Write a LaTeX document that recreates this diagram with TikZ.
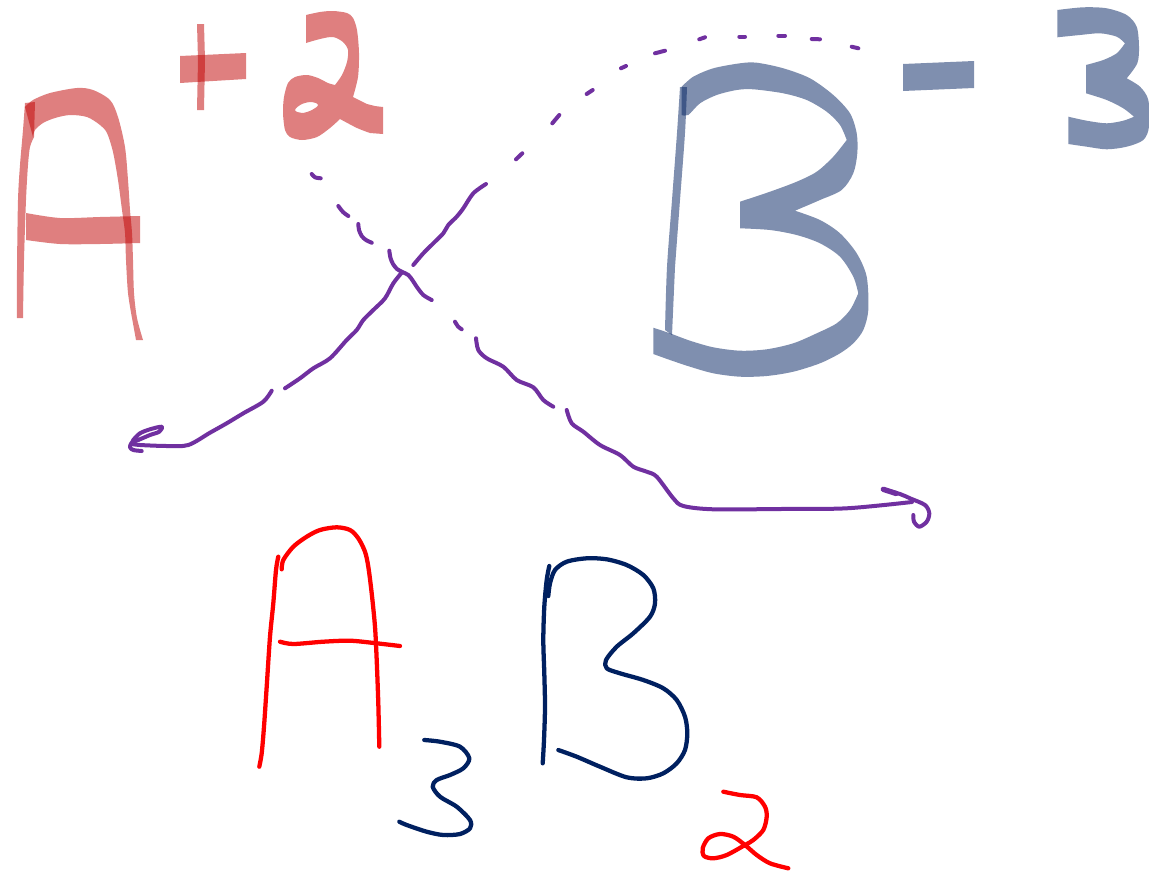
\documentclass[tikz,border=0pt]{standalone}
\definecolor{hlred}{RGB}{192,0,0}
\definecolor{navy}{RGB}{0,32,96}
\definecolor{purp}{RGB}{112,48,160}
\definecolor{pred}{RGB}{255,0,0}
\tikzset{
  hlA/.style={fill=hlred, fill opacity=0.5},
  hlB/.style={fill=navy, fill opacity=0.5},
  pen/.style={draw=purp, line width=3pt, line cap=round, line join=round},
  inkred/.style={draw=pred, line width=3.2pt, line cap=round, line join=round},
  inkblue/.style={draw=navy, line width=3.2pt, line cap=round, line join=round},
  sm/.style={smooth, tension=0.5}
}
\begin{document}
\begin{tikzpicture}[x=0.75pt,y=-0.75pt]
\useasboundingbox (0,0) rectangle (1149,871);
\fill[white] (0,0) rectangle (1149,871);

% ===== big highlighter A =====
\fill[hlA] plot[sm] coordinates {(17,318)(17,270)(18,200)(20,165)(23,130)(25,103)} -- (35,102)
  -- plot[sm] coordinates {(34,137)(30,147)(28,165)(26,200)(24,260)(23,318)} -- cycle;
\fill[hlA] plot[sm] coordinates {(25,107)(33,100)(50,93)(77,88)(93,90)(110,100)(118,117)(125,147)(128,180)(130,210)(132,233)(133,260)(134,293)(137,318)(143,340)}
  -- (136,340)
  -- plot[sm] coordinates {(132,318)(128,293)(126,260)(125,233)(122,210)(118,180)(113,152)(107,133)(100,125)(87,117)(70,115)(55,118)(43,123)(35,130)(33,137)} -- cycle;
\fill[hlA] plot[sm] coordinates {(26,213)(60,218)(100,217)(140,216)}
  -- plot[sm] coordinates {(140,243)(100,244)(60,244)(26,240)} -- cycle;
% plus
\fill[hlA] (197,24) -- (204,24) -- (205,60) -- (204,110) -- (197,110) -- (198,60) -- cycle;
\fill[hlA] (180,56) -- (246,53) -- (246,79) -- (180,83) -- cycle;
% two
\fill[hlA, even odd rule]
  plot[sm] coordinates {(306,15)(320,12)(333,11)(347,13)(353,18)(357,30)(359,53)(358,77)(353,97)}
  -- plot[sm] coordinates {(367,104)(375,106)(383,107)} -- (383,134)
  -- plot[sm] coordinates {(370,133)(357,128)(340,119)}
  -- plot[sm] coordinates {(340,119)(330,128)(317,137)(302,140)(290,137)(285,130)(283,113)(284,97)(288,83)(295,77)(307,75)(318,78)(328,83)(335,85)}
  -- plot[sm] coordinates {(335,85)(342,75)(347,62)(348,50)(343,42)(333,37)(320,39)(306,43)} -- cycle
  plot[smooth cycle, tension=0.6] coordinates {(295,110)(302,104)(312,102)(318,105)(312,110)(302,113)};

% ===== big highlighter B =====
\fill[hlB] plot[sm] coordinates {(680,87)(677,133)(672,200)(667,267)(665,330)} -- (672,335)
  -- plot[sm] coordinates {(675,267)(680,200)(685,133)(687,87)} -- cycle;
\fill[hlB]
  plot[sm] coordinates {(681.7,86.7)(693.3,76.7)(713.3,68.3)(740,63.3)(756.7,62.7)(783.3,68.3)(810,78.3)(833.3,95)(850,113.3)(856.7,133.3)(857.3,153.3)(853.3,173.3)(841.7,190)(820,200)(795,210.7)}
  -- plot[sm] coordinates {(795,210.7)(820,220)(840,233.3)(856.7,253.3)(866.7,276.7)(868.3,310)(863.3,330)(853.3,343.3)(840,353.3)(820,363.3)(793.3,371.7)(766.7,376)(740,376.7)(713.3,373.3)(690,366.7)(670,360)(653.3,354)}
  -- (653.3,327.7)
  -- plot[sm] coordinates {(653.3,327.7)(670,333.3)(690,340.7)(713.3,347.3)(740,350.7)(766.7,349.3)(793.3,343.3)(816.7,333.3)(836.7,323.3)(850,310)(858.3,293.3)}
  -- plot[sm] coordinates {(858.3,293.3)(853.3,276.7)(840,256.7)(820,243.3)(796.7,235)(770,230)(740,228.3)}
  -- (740,201.7)
  -- plot[sm] coordinates {(740,201.7)(770,191.7)(796.7,181.7)(816.7,171.7)(833.3,156.7)(846.7,140)}
  -- plot[sm] coordinates {(846.7,140)(840,125)(826.7,111.7)(806.7,100)(783.3,93.3)(753.3,89.3)(736.7,90)(716.7,95)(700,103.3)(688.3,115)(681.7,115)}
  -- cycle;
% minus
\fill[hlB] (903,64) -- (974,61) -- (974,88) -- (903,91) -- cycle;
% three
\fill[hlB]
  plot[sm] coordinates {(1057.3,10)(1083.3,7.3)(1106.7,8.3)(1126.7,15)(1136.7,26.7)(1139,46.7)(1137.3,63.3)(1126.7,78.3)}
  -- plot[sm] coordinates {(1126.7,78.3)(1140,86.7)(1148.3,100)(1149,126.7)(1143.3,140)(1126.7,146.7)(1106.7,149.3)(1086.7,146.7)(1068.3,144)}
  -- (1068.3,116.7)
  -- plot[sm] coordinates {(1068.3,116.7)(1086.7,120.7)(1106.7,123.3)(1123.3,120.7)(1134,116.7)}
  -- plot[sm] coordinates {(1134,116.7)(1123.3,108.3)(1106.7,100)(1086,93.3)}
  -- (1086,65)
  -- plot[sm] coordinates {(1086,65)(1103.3,60)(1116.7,53.3)(1125,43.3)}
  -- plot[sm] coordinates {(1125,43.3)(1116.7,36.7)(1100,33.3)(1080,35)(1057.3,37.3)}
  -- cycle;

% ===== purple line 1: lower-left arrow up to dotted arc =====
\draw[pen] plot[sm] coordinates {(131.7,444)(140,445)(166.7,446)(188.3,445)(210,432.7)(226.7,423.3)(243.3,413.3)(263.3,401.7)(271.7,390.7)};
\draw[pen] plot[sm] coordinates {(131.7,444)(133.3,440)(140,433.3)(150,429.3)(161.7,426.7)(159.3,431.7)(150,435)(138.3,440)(131.7,442.7)(130,447.3)(133.3,450)(141.7,451)};
\draw[pen] plot[sm] coordinates {(285,388.3)(300,378.3)(313.3,368.3)(330,358.3)(346.7,340)(356.7,330)(363.3,320)(373.3,310)(385,298.3)(393.3,283.3)(401.7,272.7)};
\draw[pen] plot[sm] coordinates {(413.3,265)(423.3,253.3)(433.3,243.3)(443.3,233.3)(448.3,225)(456.7,216.7)(463.3,208.3)(473.3,193.3)(486,184)};
\draw[pen] (516,159.3) -- (522.3,153.3);
\draw[pen] (552.3,123.3) .. controls (556,120) .. (559.3,115);
\draw[pen] (586.7,94) -- (592.7,90);
\draw[pen] (621,68.3) -- (626,66);
\draw[pen] (655,53.3) -- (665,50.7);
\draw[pen] (699.3,39.3) -- (705,37.3);
\draw[pen] (739.3,36.7) -- (745,36.7);
\draw[pen] (778.3,35.7) -- (785,35.7);
\draw[pen] (811.7,39) -- (820,39.3);
\draw[pen] (851.7,46.7) -- (858.3,48.3);

% ===== purple line 2: from the 2 down to the lower-right arrow =====
\draw[pen] plot[sm] coordinates {(311.7,174)(315,177.3)(320.7,178.3)};
\draw[pen] plot[sm] coordinates {(338.3,206)(343,212)(348.3,216)};
\draw[pen] plot[sm] coordinates {(358.3,224)(359,230)(361.7,236)(366,240)(371.7,242.7)};
\draw[pen] plot[sm] coordinates {(389.3,250.7)(390.5,258)(393,264)(397,269)(401.7,271.7)(408.3,275)(413,281)(416.7,286.7)(423.3,295)(431.7,300)};
\draw[pen] plot[sm] coordinates {(455,321.7)(458,326.5)(461.7,329.3)};
\draw[pen] plot[sm] coordinates {(476,338.3)(478.3,350)(486.7,358.3)(503.3,366.7)(516.7,380)(533.3,387.3)(543.3,400)(553.3,406.7)};
\draw[pen] plot[sm] coordinates {(566.7,410)(571.7,423.3)(583.3,431.7)(600,445)(620,455)(633.3,466.7)(646.7,471.7)(656.7,476.7)(673.3,498.3)(683.3,506)(713.3,509.3)(780,509)(846.7,508.3)(912,502)};
\draw[pen] plot[sm] coordinates {(883.3,489.3)(900,494)(910,498.3)(925,505)(929.3,513.3)(926.7,521.7)(919.3,526.7)(914,521.7)(913.3,515)};
\draw[pen, line width=4pt] (883.3,489.3) -- (896,493.5);

% ===== small A3 B2 =====
\draw[inkred] plot[sm] coordinates {(278.3,556.7)(276,570)(273.3,603.3)(270,636.7)(266.7,686.7)(264,726.7)(261.7,753.3)(259.3,766.7)};
\draw[inkred] plot[sm] coordinates {(281.7,569.3)(283.3,560)(293.3,546.7)(306.7,536.7)(320,530)(336.7,527.3)(350,530)(358.3,538.3)(365,551.7)(368.3,566.7)(371.7,593.3)(375,626.7)(376.7,660)(378.3,703.3)(379.3,746.7)};
\draw[inkred] plot[sm] coordinates {(280,641.7)(293.3,644)(323.3,641.7)(350,640.7)(376.7,643.3)(400,646)};
\draw[inkblue] plot[sm] coordinates {(424.3,740)(440,741.7)(460,746.7)(469.3,758.3)(463.3,768.3)(450,775)(436.7,780)(432.7,786.7)(440,796.7)(456.7,806.7)(470,820)(470,828.3)(460,834)(443.3,835)(426.7,831.7)(406.7,825)(399.3,821.7)};
\draw[inkblue] plot[sm] coordinates {(549.3,566)(546.7,580)(544.3,606.7)(543.3,640)(544.3,673.3)(545,706.7)(544,740)(542.7,763.3)};
\draw[inkblue] plot[sm] coordinates {(548.3,596)(550,583.3)(555,570)(566.7,561.7)(586.7,558.3)(606.7,559.3)(626.7,565)(643.3,575)(653.3,588.3)(655,603.3)(650,616.7)(633.3,633.3)(616.7,646.7)(606,660)(606.7,668.3)(620,673.3)(643.3,680)(663.3,688.3)(676.7,700)(685,716.7)(687.3,733.3)(685,750)(676.7,763.3)(663.3,773.3)(646.7,778.3)(626.7,777.3)(600,766.7)(576.7,756.7)(558.3,750)};
\draw[inkred] plot[sm] coordinates {(723.3,791.7)(740,795)(756.7,797.3)(765,806.7)(766.7,816.7)(763.3,830)(753.3,840)(745,845)(726.7,855)(713.3,858.3)(704,856)(702.7,848.3)(708.3,838.3)(720,834)(733.3,836.7)(745,845)(756.7,855)(770,863.3)(788.3,868.3)};
\end{tikzpicture}
\end{document}
